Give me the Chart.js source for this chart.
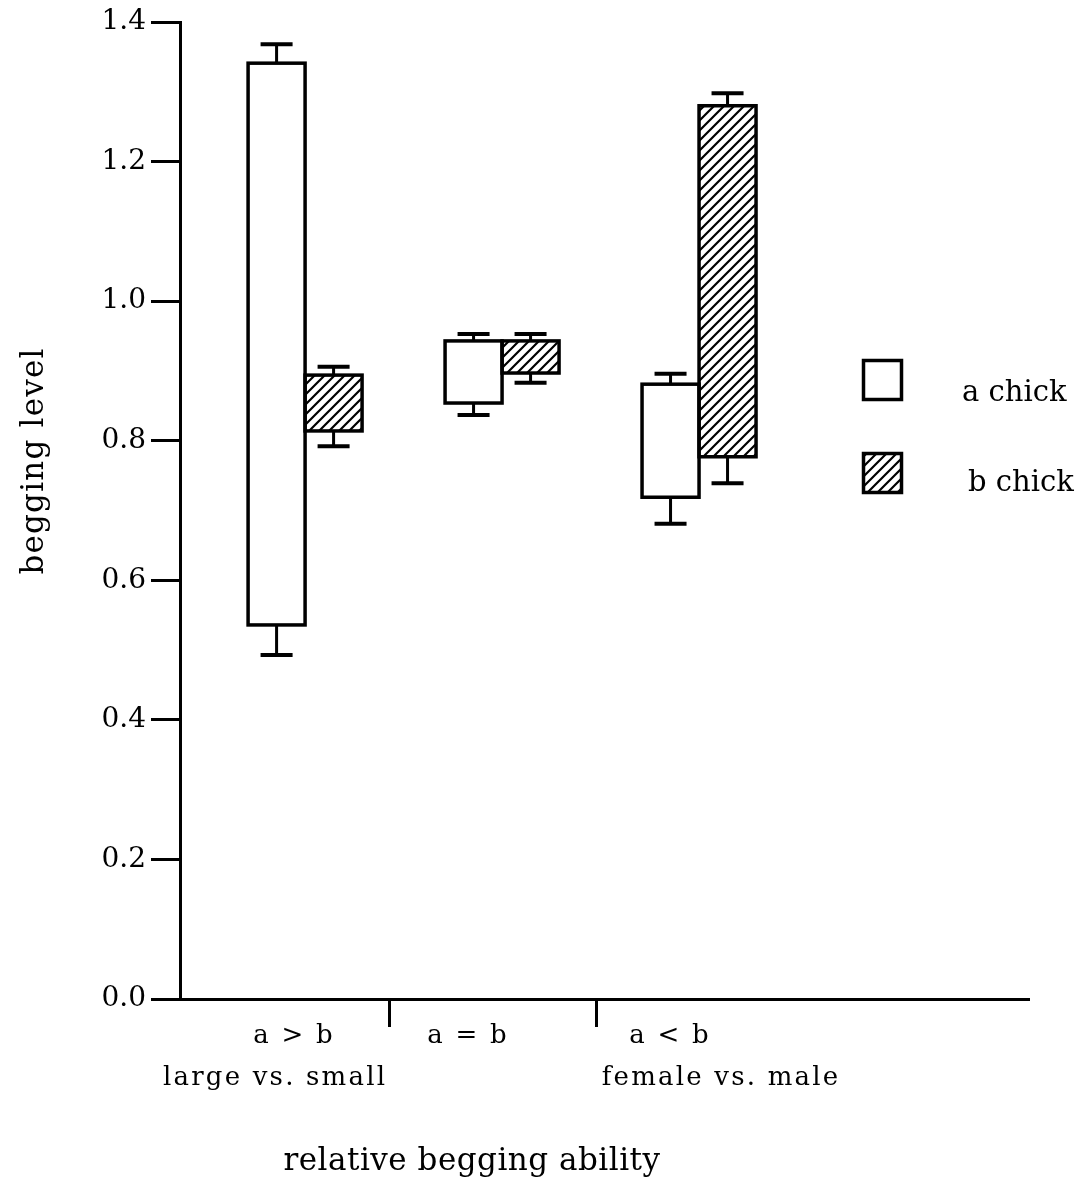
<!DOCTYPE html>
<html>
<head>
<meta charset="utf-8">
<script src="https://cdn.jsdelivr.net/npm/chart.js@4.4.0/dist/chart.umd.min.js"></script>
<style>
html,body{margin:0;padding:0;background:#fff;}
#wrap{width:1080px;height:1191px;}
canvas{display:block;}
</style>
</head>
<body>
<div id="wrap"><canvas id="c" width="1080" height="1191"></canvas></div>
<script>
// ---------- data ----------
const categories = ['a > b', 'a = b', 'a < b'];
const subLabels = ['large vs. small', '', 'female vs. male'];
const groupPos = [1, 2, 3];
const seriesLabels = ['a chick', 'b chick'];
const aLow = [0.536, 0.854, 0.719];
const aHigh = [1.341, 0.943, 0.881];
const aErrLow = [0.493, 0.837, 0.681];
const aErrHigh = [1.368, 0.953, 0.896];
const bLow = [0.814, 0.897, 0.777];
const bHigh = [0.894, 0.943, 1.280];
const bErrLow = [0.792, 0.883, 0.739];
const bErrHigh = [0.906, 0.953, 1.298];
const yTicks = [0, 0.2, 0.4, 0.6, 0.8, 1.0, 1.2, 1.4];
const separators = [1.43, 2.48];
const xTitle = 'relative begging ability';
const yTitle = 'begging level';

// ---------- layout / style ----------
const FONT = 'DejaVu Serif';
const line1Offsets = [-11, -34, -29];
const line2Offsets = [-30, 0, 22];

function makeHatch() {
  const c = document.createElement('canvas');
  c.width = 10; c.height = 10;
  const g = c.getContext('2d');
  g.fillStyle = '#ffffff';
  g.fillRect(0, 0, 10, 10);
  g.strokeStyle = '#000000';
  g.lineWidth = 2.2;
  g.beginPath();
  g.moveTo(-1, 11); g.lineTo(11, -1);
  g.moveTo(-1, 1); g.lineTo(1, -1);
  g.moveTo(9, 11); g.lineTo(11, 9);
  g.stroke();
  return g.createPattern(c, 'repeat');
}
const hatch = makeHatch();
const errLows = [aErrLow, bErrLow];
const errHighs = [aErrHigh, bErrHigh];

const overlay = {
  id: 'overlay',
  afterDatasetsDraw(chart) {
    const ctx = chart.ctx;
    const yScale = chart.scales.y;
    ctx.save();
    ctx.strokeStyle = '#000';
    chart.data.datasets.forEach((ds, di) => {
      const meta = chart.getDatasetMeta(di);
      meta.data.forEach((el, j) => {
        const p = el.getProps(['x', 'y', 'base', 'width'], true);
        const top = Math.min(p.y, p.base), bot = Math.max(p.y, p.base);
        ctx.lineWidth = 3.5;
        ctx.strokeRect(p.x - p.width / 2, top, p.width, bot - top);
        const hi = yScale.getPixelForValue(errHighs[di][j]);
        const lo = yScale.getPixelForValue(errLows[di][j]);
        ctx.lineWidth = 3;
        ctx.beginPath();
        ctx.moveTo(p.x, top); ctx.lineTo(p.x, hi);
        ctx.moveTo(p.x, bot); ctx.lineTo(p.x, lo);
        ctx.stroke();
        ctx.lineWidth = 4;
        ctx.beginPath();
        ctx.moveTo(p.x - 16, hi); ctx.lineTo(p.x + 16, hi);
        ctx.moveTo(p.x - 16, lo); ctx.lineTo(p.x + 16, lo);
        ctx.stroke();
      });
    });
    ctx.restore();
  },
  afterDraw(chart) {
    const ctx = chart.ctx;
    const xScale = chart.scales.x;
    const area = chart.chartArea;
    ctx.save();
    ctx.fillStyle = '#000';
    ctx.font = '26px "' + FONT + '"';
    ctx.letterSpacing = '2.2px';
    ctx.textAlign = 'center';
    ctx.textBaseline = 'alphabetic';
    categories.forEach((c, i) => {
      const cx = xScale.getPixelForValue(groupPos[i]);
      ctx.fillText(c, cx + line1Offsets[i], area.bottom + 44);
      if (subLabels[i]) ctx.fillText(subLabels[i], cx + line2Offsets[i], area.bottom + 86);
    });
    ctx.font = '31px "' + FONT + '"';
    ctx.letterSpacing = '0.5px';
    ctx.fillText(xTitle, 472, 1170);
    ctx.save();
    ctx.translate(43, 461);
    ctx.rotate(-Math.PI / 2);
    ctx.letterSpacing = '1.2px';
    ctx.fillText(yTitle, 0, 0);
    ctx.restore();
    ctx.letterSpacing = '0px';
    const boxes = [{y: 360.5, ty: 401, tx: 962}, {y: 453.5, ty: 491, tx: 968}];
    chart.data.datasets.forEach((ds, di) => {
      const b = boxes[di];
      ctx.fillStyle = ds.backgroundColor;
      ctx.fillRect(863.5, b.y, 38, 39);
      ctx.lineWidth = 3.5;
      ctx.strokeStyle = '#000';
      ctx.strokeRect(863.5, b.y, 38, 39);
      ctx.fillStyle = '#000';
      ctx.font = '29px "' + FONT + '"';
      ctx.textAlign = 'left';
      ctx.fillText(ds.label, b.tx, b.ty);
    });
    ctx.restore();
  }
};

new Chart(document.getElementById('c'), {
  type: 'bar',
  data: {
    datasets: [
      { label: seriesLabels[0], data: groupPos.map((x, i) => ({ x: x, y: [aLow[i], aHigh[i]] })),
        backgroundColor: '#ffffff', borderWidth: 0, barThickness: 57 },
      { label: seriesLabels[1], data: groupPos.map((x, i) => ({ x: x, y: [bLow[i], bHigh[i]] })),
        backgroundColor: hatch, borderWidth: 0, barThickness: 57 }
    ]
  },
  options: {
    responsive: false,
    animation: false,
    devicePixelRatio: 1,
    layout: { padding: { top: 22, right: 52, bottom: 0, left: 0 } },
    plugins: { legend: { display: false }, tooltip: { enabled: false }, title: { display: false } },
    scales: {
      x: {
        type: 'linear', min: 0.365, max: 4.67, offset: false,
        afterBuildTicks: s => { s.ticks = separators.map(v => ({ value: v })); },
        afterFit: s => { s.height = 192; },
        ticks: { callback: () => '', font: { size: 2 } },
        grid: { offset: false, drawOnChartArea: false, drawTicks: true, tickLength: 28, color: '#000', lineWidth: 3 },
        border: { display: true, color: '#000', width: 3 }
      },
      y: {
        type: 'linear', min: 0, max: 1.4,
        afterBuildTicks: s => { s.ticks = yTicks.map(v => ({ value: v })); },
        afterFit: s => { s.width = 180; },
        ticks: { callback: v => Number(v).toFixed(1), color: '#000', font: { family: FONT, size: 28 }, padding: 5 },
        grid: { drawOnChartArea: false, drawTicks: true, tickLength: 29, color: '#000', lineWidth: 3 },
        border: { display: true, color: '#000', width: 3 }
      }
    }
  },
  plugins: [overlay]
});
</script>
</body>
</html>
